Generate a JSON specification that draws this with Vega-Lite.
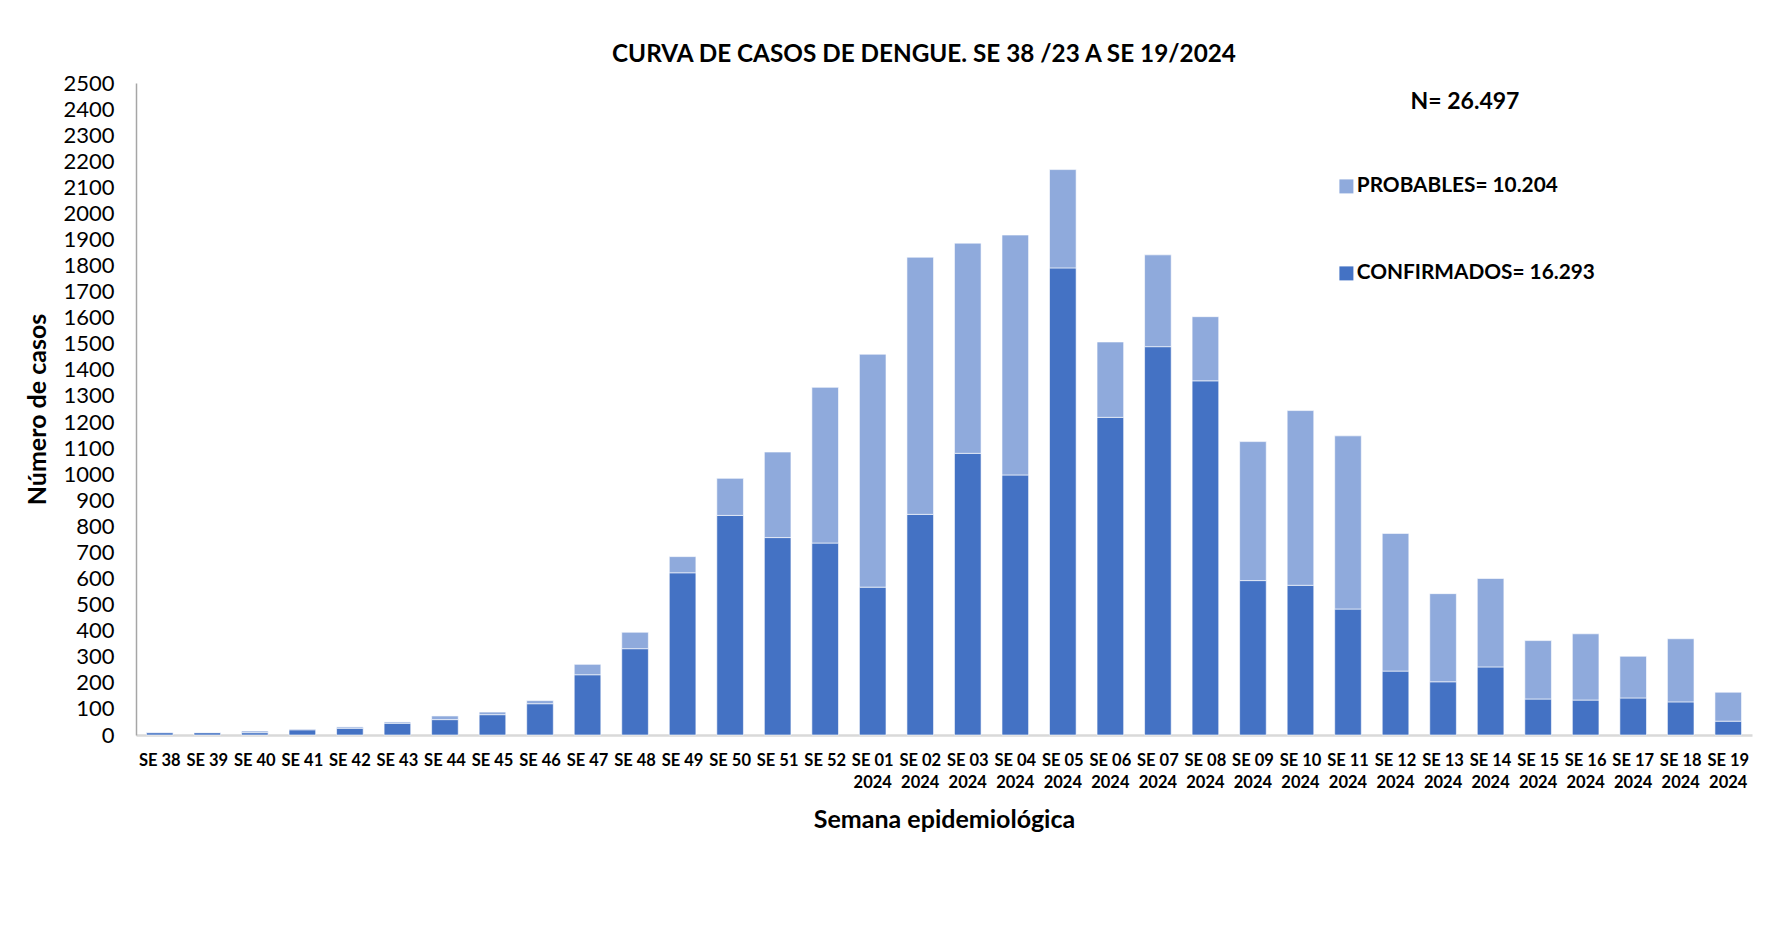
{
  "$schema": "https://vega.github.io/schema/vega-lite/v6.json",
  "autosize": {"type": "none"},
  "padding": {"left": 136, "top": 83, "right": 19, "bottom": 125},
  "width": 1616,
  "height": 652,
  "background": "white",
  "title": {
    "text": "CURVA DE CASOS DE DENGUE. SE 38 /23 A SE 19/2024",
    "frame": "group",
    "anchor": "middle",
    "dx": -20,
    "offset": 5,
    "font": "Lato",
    "fontSize": 24.3,
    "fontWeight": "bold",
    "color": "#000000"
  },
  "data": {
    "values": [
      {"semana": "SE 38", "tipo": "CONFIRMADOS", "casos": 9},
      {"semana": "SE 38", "tipo": "PROBABLES", "casos": 2},
      {"semana": "SE 39", "tipo": "CONFIRMADOS", "casos": 9},
      {"semana": "SE 39", "tipo": "PROBABLES", "casos": 1},
      {"semana": "SE 40", "tipo": "CONFIRMADOS", "casos": 9},
      {"semana": "SE 40", "tipo": "PROBABLES", "casos": 6},
      {"semana": "SE 41", "tipo": "CONFIRMADOS", "casos": 20},
      {"semana": "SE 41", "tipo": "PROBABLES", "casos": 3},
      {"semana": "SE 42", "tipo": "CONFIRMADOS", "casos": 26},
      {"semana": "SE 42", "tipo": "PROBABLES", "casos": 5},
      {"semana": "SE 43", "tipo": "CONFIRMADOS", "casos": 45},
      {"semana": "SE 43", "tipo": "PROBABLES", "casos": 5},
      {"semana": "SE 44", "tipo": "CONFIRMADOS", "casos": 59},
      {"semana": "SE 44", "tipo": "PROBABLES", "casos": 14},
      {"semana": "SE 45", "tipo": "CONFIRMADOS", "casos": 78},
      {"semana": "SE 45", "tipo": "PROBABLES", "casos": 10},
      {"semana": "SE 46", "tipo": "CONFIRMADOS", "casos": 120},
      {"semana": "SE 46", "tipo": "PROBABLES", "casos": 12},
      {"semana": "SE 47", "tipo": "CONFIRMADOS", "casos": 231},
      {"semana": "SE 47", "tipo": "PROBABLES", "casos": 40},
      {"semana": "SE 48", "tipo": "CONFIRMADOS", "casos": 331},
      {"semana": "SE 48", "tipo": "PROBABLES", "casos": 63},
      {"semana": "SE 49", "tipo": "CONFIRMADOS", "casos": 622},
      {"semana": "SE 49", "tipo": "PROBABLES", "casos": 62},
      {"semana": "SE 50", "tipo": "CONFIRMADOS", "casos": 842},
      {"semana": "SE 50", "tipo": "PROBABLES", "casos": 142},
      {"semana": "SE 51", "tipo": "CONFIRMADOS", "casos": 757},
      {"semana": "SE 51", "tipo": "PROBABLES", "casos": 328},
      {"semana": "SE 52", "tipo": "CONFIRMADOS", "casos": 736},
      {"semana": "SE 52", "tipo": "PROBABLES", "casos": 597},
      {"semana": "SE 01 2024", "tipo": "CONFIRMADOS", "casos": 567},
      {"semana": "SE 01 2024", "tipo": "PROBABLES", "casos": 893},
      {"semana": "SE 02 2024", "tipo": "CONFIRMADOS", "casos": 846},
      {"semana": "SE 02 2024", "tipo": "PROBABLES", "casos": 986},
      {"semana": "SE 03 2024", "tipo": "CONFIRMADOS", "casos": 1080},
      {"semana": "SE 03 2024", "tipo": "PROBABLES", "casos": 806},
      {"semana": "SE 04 2024", "tipo": "CONFIRMADOS", "casos": 997},
      {"semana": "SE 04 2024", "tipo": "PROBABLES", "casos": 920},
      {"semana": "SE 05 2024", "tipo": "CONFIRMADOS", "casos": 1791},
      {"semana": "SE 05 2024", "tipo": "PROBABLES", "casos": 377},
      {"semana": "SE 06 2024", "tipo": "CONFIRMADOS", "casos": 1218},
      {"semana": "SE 06 2024", "tipo": "PROBABLES", "casos": 289},
      {"semana": "SE 07 2024", "tipo": "CONFIRMADOS", "casos": 1489},
      {"semana": "SE 07 2024", "tipo": "PROBABLES", "casos": 352},
      {"semana": "SE 08 2024", "tipo": "CONFIRMADOS", "casos": 1358},
      {"semana": "SE 08 2024", "tipo": "PROBABLES", "casos": 246},
      {"semana": "SE 09 2024", "tipo": "CONFIRMADOS", "casos": 592},
      {"semana": "SE 09 2024", "tipo": "PROBABLES", "casos": 533},
      {"semana": "SE 10 2024", "tipo": "CONFIRMADOS", "casos": 574},
      {"semana": "SE 10 2024", "tipo": "PROBABLES", "casos": 670},
      {"semana": "SE 11 2024", "tipo": "CONFIRMADOS", "casos": 483},
      {"semana": "SE 11 2024", "tipo": "PROBABLES", "casos": 664},
      {"semana": "SE 12 2024", "tipo": "CONFIRMADOS", "casos": 245},
      {"semana": "SE 12 2024", "tipo": "PROBABLES", "casos": 528},
      {"semana": "SE 13 2024", "tipo": "CONFIRMADOS", "casos": 204},
      {"semana": "SE 13 2024", "tipo": "PROBABLES", "casos": 338},
      {"semana": "SE 14 2024", "tipo": "CONFIRMADOS", "casos": 261},
      {"semana": "SE 14 2024", "tipo": "PROBABLES", "casos": 339},
      {"semana": "SE 15 2024", "tipo": "CONFIRMADOS", "casos": 138},
      {"semana": "SE 15 2024", "tipo": "PROBABLES", "casos": 224},
      {"semana": "SE 16 2024", "tipo": "CONFIRMADOS", "casos": 134},
      {"semana": "SE 16 2024", "tipo": "PROBABLES", "casos": 254},
      {"semana": "SE 17 2024", "tipo": "CONFIRMADOS", "casos": 142},
      {"semana": "SE 17 2024", "tipo": "PROBABLES", "casos": 160},
      {"semana": "SE 18 2024", "tipo": "CONFIRMADOS", "casos": 127},
      {"semana": "SE 18 2024", "tipo": "PROBABLES", "casos": 242},
      {"semana": "SE 19 2024", "tipo": "CONFIRMADOS", "casos": 53},
      {"semana": "SE 19 2024", "tipo": "PROBABLES", "casos": 111}
    ]
  },
  "mark": {"type": "bar", "stroke": "white", "strokeWidth": 1, "strokeOpacity": 0.6},
  "encoding": {
    "x": {
      "field": "semana",
      "type": "nominal",
      "sort": null,
      "scale": {"paddingInner": 0.44, "paddingOuter": 0.22},
      "axis": {
        "title": "Semana epidemiológica",
        "titleFont": "Lato",
        "titleFontSize": 25,
        "titleFontWeight": "bold",
        "titleColor": "#000000",
        "titleY": 84,
        "titleBaseline": "middle",
        "labelAngle": 0,
        "labelFont": "Lato",
        "labelFontSize": 16.5,
        "labelFontWeight": "bold",
        "labelColor": "#000000",
        "labelPadding": 17,
        "labelLineHeight": 22.5,
        "labelExpr": "length(datum.label) > 5 ? [slice(datum.label, 0, 5), slice(datum.label, 6)] : datum.label",
        "ticks": false,
        "domainColor": "#d9d9d9",
        "domainWidth": 2.5,
        "grid": false
      }
    },
    "y": {
      "field": "casos",
      "type": "quantitative",
      "aggregate": "sum",
      "stack": "zero",
      "scale": {"domain": [0, 2500], "nice": false},
      "axis": {
        "title": "Número de casos",
        "titleFont": "Lato",
        "titleFontSize": 25,
        "titleFontWeight": "bold",
        "titleColor": "#000000",
        "titleX": -99,
        "titleY": 326,
        "titleAngle": -90,
        "titleBaseline": "middle",
        "titleAlign": "center",
        "values": [0, 100, 200, 300, 400, 500, 600, 700, 800, 900, 1000, 1100, 1200, 1300, 1400, 1500, 1600, 1700, 1800, 1900, 2000, 2100, 2200, 2300, 2400, 2500],
        "labelFont": "Lato",
        "labelFontSize": 22,
        "labelColor": "#000000",
        "labelPadding": 22,
        "ticks": false,
        "grid": false,
        "domainColor": "#a6a6a6",
        "domainWidth": 1.5,
        "format": "d"
      }
    },
    "color": {
      "field": "tipo",
      "type": "nominal",
      "scale": {"domain": ["PROBABLES", "CONFIRMADOS"], "range": ["#8FAADC", "#4472C4"]},
      "legend": {
        "orient": "none",
        "legendX": 1200,
        "legendY": 8,
        "padding": 0,
        "title": "N= 26.497",
        "titleFont": "Lato",
        "titleFontSize": 23,
        "titleFontWeight": "bold",
        "titleColor": "#000000",
        "titleAnchor": "middle",
        "titlePadding": 62,
        "symbolType": "square",
        "symbolSize": 196,
        "symbolStrokeWidth": 0,
        "labelFont": "Lato",
        "labelFontSize": 20.8,
        "labelFontWeight": "bold",
        "labelColor": "#000000",
        "labelOffset": 0,
        "labelLimit": 400,
        "rowPadding": 65,
        "labelExpr": "datum.label == 'PROBABLES' ? 'PROBABLES= 10.204' : 'CONFIRMADOS= 16.293'"
      }
    },
    "order": {"field": "tipo", "type": "nominal", "sort": "ascending"}
  },
  "config": {
    "view": {"stroke": null}
  }
}
